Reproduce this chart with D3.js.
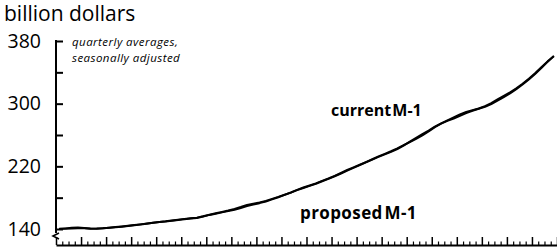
<!DOCTYPE html>
<html><head><meta charset="utf-8">
<script src="https://cdn.jsdelivr.net/npm/d3@7"></script>
<style>
html,body{margin:0;padding:0;background:#fff;}
svg{display:block;}
text{font-family:"Open Sans",sans-serif;fill:#000;}
</style></head>
<body>
<svg id="chart" width="557" height="249"></svg>
<script>
// quarterly averages, seasonally adjusted (billion dollars), 80 quarters
const quarters = d3.range(80);
const currentM1 = [
140.0,140.8,141.5,141.8,141.3,140.6,140.4,140.9,141.5,142.2,
143.0,143.9,144.8,145.8,146.8,147.9,148.8,149.6,150.6,151.6,
152.6,153.4,154.0,156.0,158.0,159.6,161.2,162.8,164.6,166.8,
169.3,171.2,173.0,175.0,177.8,180.6,183.6,186.6,190.0,193.0,
195.6,198.2,201.5,204.5,207.8,211.5,215.3,218.6,222.0,225.4,
229.0,232.6,236.0,239.3,243.0,247.0,251.0,255.0,259.5,264.5,
270.0,274.5,278.0,281.0,284.5,288.0,291.0,293.5,296.0,299.5,
304.0,308.5,313.0,318.5,324.5,331.0,338.0,345.5,353.5,361.0];
const proposedM1 = [
140.2,140.2,140.6,140.9,140.8,140.4,140.5,141.0,141.7,142.4,
143.2,144.1,145.0,145.9,146.9,148.0,148.9,149.8,150.9,151.9,
152.8,153.7,154.5,156.3,158.3,160.0,161.8,163.6,165.6,168.0,
170.6,172.4,174.0,175.8,178.4,181.0,183.8,186.5,189.6,192.4,
195.0,197.8,201.0,204.0,207.3,210.8,214.6,218.0,221.6,225.2,
228.6,232.0,235.2,238.4,242.0,246.4,251.6,256.2,261.0,265.6,
270.8,274.8,278.8,282.6,286.4,289.5,291.6,293.8,296.8,300.8,
305.4,309.8,314.4,319.6,325.4,331.8,338.8,346.4,354.0,360.6];
const yTicks = [140,180,220,260,300,340,380];
const yLabels = [140,220,300,380];
const yearTicks = d3.range(0,81,4);
const quarterTicks = d3.range(0,81).filter(d=>d%4!==0);
const unitLabel = "billion dollars";
const noteLines = ["quarterly averages,","seasonally adjusted"];
const seriesLabels = ["current M-1","proposed M-1"];

const svg = d3.select("#chart");
const x = d3.scaleLinear().domain([0,80]).range([56,557]);
const y = d3.scaleLinear().domain([140,380]).range([229,41]);

// y axis
const yAxis = d3.axisLeft(y).tickValues(yTicks).tickSizeInner(-7).tickSizeOuter(0).tickPadding(15)
  .tickFormat(d=>yLabels.includes(d)?d:"");
const gy = svg.append("g").attr("transform",`translate(${x(0)},0)`).call(yAxis);
gy.select(".domain").remove();
gy.selectAll(".tick line").attr("stroke","#000").attr("stroke-width",2);
gy.selectAll(".tick text").style("font-size","19.5px").attr("fill","#000").attr("font-family","Open Sans");
svg.append("line").attr("x1",x(0)).attr("x2",x(0)).attr("y1",y(380)-1).attr("y2",y(140)+4)
  .attr("stroke","#000").attr("stroke-width",2);
// break mark
const bx = x(0), by = y(140)+9;
svg.append("path").attr("d",`M${bx+3},${by-5} L${bx-3},${by-2} L${bx+3},${by+1}`)
  .attr("stroke","#000").attr("stroke-width",1.6).attr("fill","none");

// x axis
const xBase = 245;
const gx = svg.append("g").attr("transform",`translate(0,${xBase})`)
  .call(d3.axisBottom(x).tickValues(yearTicks).tickSizeInner(-8).tickSizeOuter(0).tickFormat(""));
gx.select(".domain").attr("stroke","#000").attr("stroke-width",2);
gx.selectAll(".tick line").attr("stroke","#000").attr("stroke-width",1.5);
const gx2 = svg.append("g").attr("transform",`translate(0,${xBase})`)
  .call(d3.axisBottom(x).tickValues(quarterTicks).tickSizeInner(-3.5).tickSizeOuter(0).tickFormat(""));
gx2.select(".domain").remove();
gx2.selectAll(".tick line").attr("stroke","#000").attr("stroke-width",1.2);

// lines
const line = d3.line().x((d,i)=>x(i+0.5)).y(d=>y(d));
[currentM1, proposedM1].forEach(s=>{
  svg.append("path").datum(s).attr("d",line).attr("fill","none")
    .attr("stroke","#000").attr("stroke-width",2).attr("stroke-linejoin","round");
});

// texts
svg.append("text").attr("x",4).attr("y",21).style("font-size","21px").text(unitLabel);
svg.append("text").attr("x",72).attr("y",46).style("font-size","11.5px").style("font-style","italic")
  .style("letter-spacing","0.45px").text(noteLines[0]);
svg.append("text").attr("x",72).attr("y",62).style("font-size","11.5px").style("font-style","italic")
  .style("letter-spacing","0.45px").text(noteLines[1]);
svg.append("text").attr("x",331).attr("y",116).style("font-size","16px").style("font-weight","bold")
  .style("word-spacing","-3px").text(seriesLabels[0]);
svg.append("text").attr("x",300).attr("y",219).style("font-size","17px").style("font-weight","bold")
  .style("letter-spacing","0.4px").style("word-spacing","-3px").text(seriesLabels[1]);
</script>
</body></html>
